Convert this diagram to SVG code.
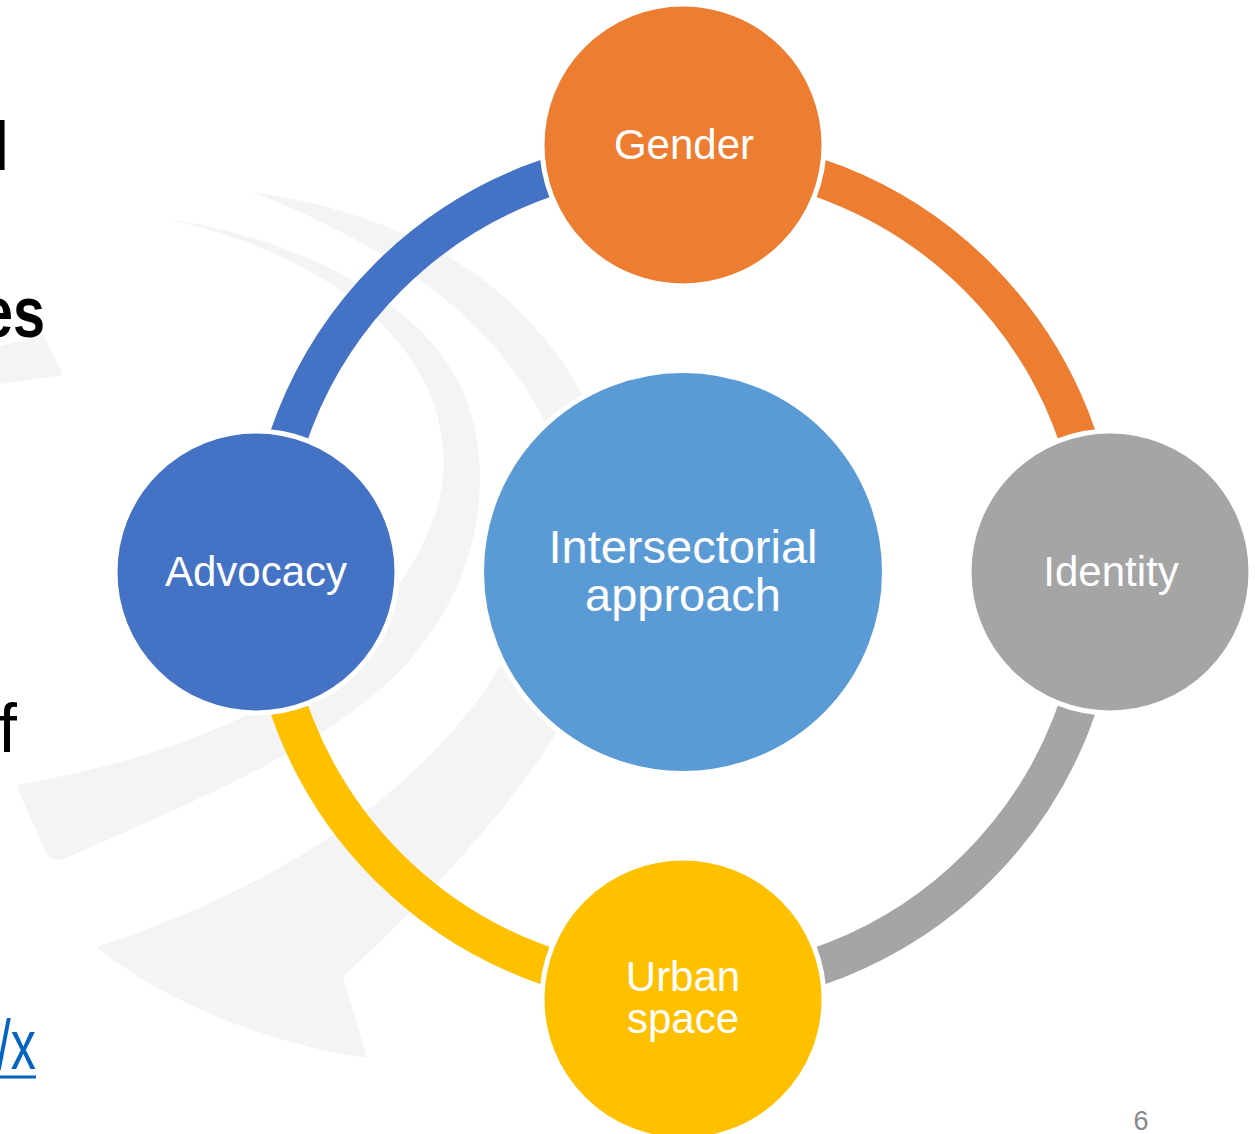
<svg xmlns="http://www.w3.org/2000/svg" width="1260" height="1134" viewBox="0 0 1260 1134">
<style>
.bg{fill:#F4F4F4;stroke:none}
.arc{fill:none;stroke-width:38}
.node{stroke:#FFFFFF;stroke-width:5}
.lbl{font-family:"Liberation Sans",Arial,sans-serif;fill:#FFFFFF;text-anchor:middle}
.side{font-family:"Liberation Sans",Arial,sans-serif;fill:#000000}
</style>
<rect width="1260" height="1134" fill="#FFFFFF"/>
<g id="background">
<path class="bg" d="M253,192 C390,212 530,270 600,430 L555,445 C510,330 400,250 253,192 Z"/>
<path class="bg" d="M163,218 C310,240 440,310 470,410 C492,480 480,580 410,660 C340,740 200,800 63,859 Q52,862 46,852 L18,790 Q16,785 22,784 C130,765 260,725 330,660 C400,600 450,520 443,450 C435,330 310,250 163,218 Z"/>
<path class="bg" d="M540,600 L500,667 C430,780 300,880 97,947 C160,1000 270,1045 367,1058 L343,977 C420,905 510,810 557,732 L590,660 Z"/>
<path class="bg" d="M0,346 L43,335 L63,375 L0,384 Z"/>
</g>
<g id="side-text">
<text class="side" x="-6" y="170" font-size="68">l</text>
<text class="side" transform="translate(45,337) scale(0.8,1)" text-anchor="end" font-size="72" font-weight="bold">es</text>
<text class="side" x="17" y="752" text-anchor="end" font-size="68">f</text>
<text transform="translate(36,1069) scale(0.72,1)" text-anchor="end" font-size="70" font-family="Liberation Sans, Arial, sans-serif" fill="#0563C1">/x</text>
<line x1="0" y1="1077" x2="36" y2="1077" stroke="#0563C1" stroke-width="3"/>
</g>
<g id="connectors">
<path class="arc" stroke="#4472C4" d="M266,572 A417,417 0 0 1 683,155"/>
<path class="arc" stroke="#ED7D31" d="M683,155 A417,417 0 0 1 1100,572"/>
<path class="arc" stroke="#A5A5A5" d="M1100,572 A417,417 0 0 1 683,989"/>
<path class="arc" stroke="#FFC000" d="M683,989 A417,417 0 0 1 266,572"/>
</g>
<g id="center">
<circle class="node" cx="683" cy="572" r="201.5" fill="#5B9BD5"/>
<text class="lbl" x="683" y="563" font-size="47">Intersectorial</text>
<text class="lbl" x="683" y="611" font-size="47">approach</text>
</g>
<g id="gender">
<circle class="node" cx="683" cy="145" r="141" fill="#ED7D31"/>
<text class="lbl" x="684" y="159" font-size="42">Gender</text>
</g>
<g id="identity">
<circle class="node" cx="1110" cy="572" r="141" fill="#A5A5A5"/>
<text class="lbl" x="1111" y="586" font-size="42">Identity</text>
</g>
<g id="urban-space">
<circle class="node" cx="683" cy="999" r="141" fill="#FFC000"/>
<text class="lbl" x="683" y="991" font-size="42">Urban</text>
<text class="lbl" x="683" y="1033" font-size="42">space</text>
</g>
<g id="advocacy">
<circle class="node" cx="256" cy="572" r="141" fill="#4472C4"/>
<text class="lbl" x="256" y="586" font-size="42">Advocacy</text>
</g>
<text x="1141" y="1130" text-anchor="middle" font-size="27" font-family="Liberation Sans, Arial, sans-serif" fill="#898989">6</text>
</svg>
